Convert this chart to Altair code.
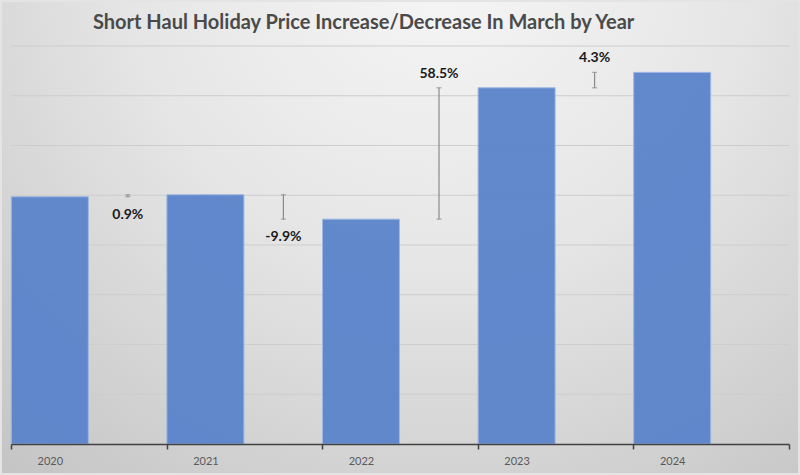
import altair as alt
import pandas as pd

# ---- data ----
years = ["2020", "2021", "2022", "2023", "2024"]
prices = [497, 501, 452, 716, 747]
change_labels = ["0.9%", "-9.9%", "58.5%", "4.3%"]
label_sides = ["below", "below", "above", "above"]
y_ticks = [100, 200, 300, 400, 500, 600, 700, 800]

W, H = 778, 398
PAD_L, PAD_T, PAD_R, PAD_B = 11, 46, 11, 31

bars = pd.DataFrame({"year": years, "price": prices})
grid = pd.DataFrame({"v": y_ticks})
chg = pd.DataFrame({
    "year": years[:-1],
    "start": prices[:-1],
    "end": prices[1:],
    "label": change_labels,
    "side": label_sides,
})
chg["hi"] = chg[["start", "end"]].max(axis=1)
chg["lo"] = chg[["start", "end"]].min(axis=1)

x_scale = alt.Scale(domain=years, paddingInner=0, paddingOuter=0)
y_scale = alt.Scale(domain=[0, 800], nice=False)

x_enc = alt.X("year:N", scale=x_scale, sort=years, title=None,
              axis=alt.Axis(tickBand="extent", labelOffset=-39, labelAngle=0,
                            labelFontSize=11, labelColor="#595959",
                            labelFont="Lato", labelPadding=6,
                            domainColor="#404040", domainWidth=1.5,
                            tickColor="#404040", tickSize=5, tickWidth=1.5,
                            grid=False, zindex=2))

bg = alt.Chart(bars).mark_rect(
    fill=alt.Gradient(
        gradient="radial",
        stops=[alt.GradientStop(color="#f6f6f6", offset=0),
               alt.GradientStop(color="#e6e6e6", offset=0.45),
               alt.GradientStop(color="#c4c4c4", offset=1)],
        x1=0.55, y1=0.15, r1=0, x2=0.55, y2=0.15, r2=0.85,
    ),
    stroke="#e4e4e4", strokeWidth=2,
).encode(
    x=alt.value(-PAD_L + 1), x2=alt.value(W + PAD_R - 1),
    y=alt.value(-PAD_T + 1), y2=alt.value(H + PAD_B - 1),
)

gridlines = alt.Chart(grid).mark_rule(color="#cdcdcd", strokeWidth=1).encode(
    y=alt.Y("v:Q", scale=y_scale, axis=None),
    x=alt.value(0), x2=alt.value(W),
)

bar = alt.Chart(bars).mark_bar(
    width=77, xOffset=-39, color="#5b84cb", opacity=0.95,
    stroke="#9db6e2", strokeWidth=1,
).encode(
    x=x_enc,
    y=alt.Y("price:Q", scale=y_scale, title=None, axis=None),
)

xc = alt.X("year:N", scale=x_scale, sort=years)

rule = alt.Chart(chg).mark_rule(xOffset=39, color="#8a8a8a", strokeWidth=1.2).encode(
    x=xc, y=alt.Y("start:Q", scale=y_scale), y2="end:Q"
)
cap1 = alt.Chart(chg).mark_tick(xOffset=39, orient="horizontal", size=5, thickness=1.2,
                                color="#8a8a8a").encode(x=xc, y=alt.Y("start:Q", scale=y_scale))
cap2 = alt.Chart(chg).mark_tick(xOffset=39, orient="horizontal", size=5, thickness=1.2,
                                color="#8a8a8a").encode(x=xc, y=alt.Y("end:Q", scale=y_scale))

lbl_above = alt.Chart(chg).transform_filter(alt.datum.side == "above").mark_text(
    xOffset=39, dy=-14, font="Lato", fontWeight="bold", fontSize=14, color="#1a1a1a",
    baseline="middle",
).encode(x=xc, y=alt.Y("hi:Q", scale=y_scale), text="label:N")

lbl_below = alt.Chart(chg).transform_filter(alt.datum.side == "below").mark_text(
    xOffset=39, dy=18, font="Lato", fontWeight="bold", fontSize=14, color="#1a1a1a",
    baseline="middle",
).encode(x=xc, y=alt.Y("lo:Q", scale=y_scale), text="label:N")

chart = alt.layer(bg, gridlines, bar, rule, cap1, cap2, lbl_above, lbl_below).properties(
    width=W, height=H,
    padding={"left": PAD_L, "top": PAD_T, "right": PAD_R, "bottom": PAD_B},
    autosize=alt.AutoSizeParams(type="none"),
    background="#d2d2d2",
    title=alt.TitleParams(
        "Short Haul Holiday Price Increase/Decrease In March by Year",
        anchor="start", frame="group", dx=82, offset=-33, font="Lato", fontSize=20,
        fontWeight="bold", color="#4a4a4a", zindex=2,
    ),
).configure_view(stroke=None)

chart.save("out.html", embed_options={"renderer": "svg", "actions": False})
